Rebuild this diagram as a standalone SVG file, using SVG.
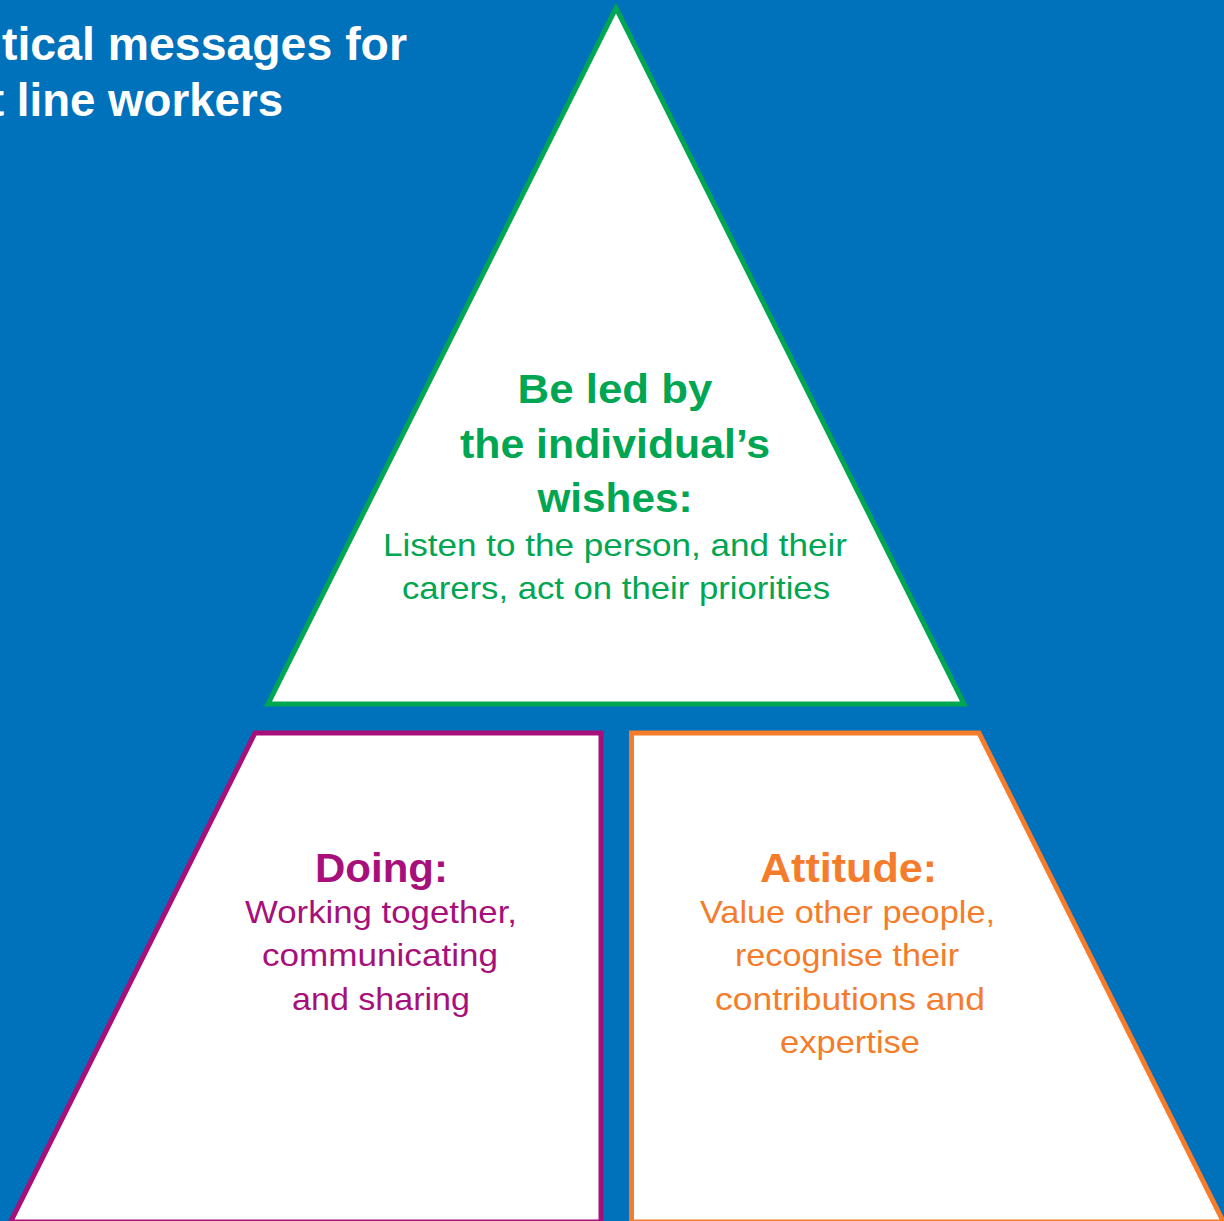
<svg xmlns="http://www.w3.org/2000/svg" width="1224" height="1221" viewBox="0 0 1224 1221">
<style>
.shape{fill:#fff;stroke-width:5;stroke-linejoin:miter}
.t{font-family:"Liberation Sans",Arial,sans-serif;text-anchor:middle}
.b{font-weight:bold;font-size:41px}
.r{font-size:32px}
.title{font-family:"Liberation Sans",Arial,sans-serif;font-weight:bold;font-size:47px;fill:#fff}
</style>
<rect x="0" y="0" width="1224" height="1221" fill="#0071BB"/>
<g id="title">
<text class="title" x="2" y="60" textLength="405" lengthAdjust="spacingAndGlyphs">tical messages for</text>
<text class="title" x="-11" y="116" textLength="294" lengthAdjust="spacingAndGlyphs">t line workers</text>
</g>
<g id="connectors"></g>
<g id="node-wishes">
<polygon class="shape" stroke="#00A651" points="616,8 964,704 268,704"/>
<text class="t b" fill="#00A651" x="615" y="403" textLength="195" lengthAdjust="spacingAndGlyphs">Be led by</text>
<text class="t b" fill="#00A651" x="615" y="458" textLength="310" lengthAdjust="spacingAndGlyphs">the individual’s</text>
<text class="t b" fill="#00A651" x="615" y="512" textLength="155" lengthAdjust="spacingAndGlyphs">wishes:</text>
<text class="t r" fill="#00A651" x="615" y="556" textLength="464" lengthAdjust="spacingAndGlyphs">Listen to the person, and their</text>
<text class="t r" fill="#00A651" x="616" y="599" textLength="428" lengthAdjust="spacingAndGlyphs">carers, act on their priorities</text>
</g>
<g id="node-doing">
<polygon class="shape" stroke="#A7107A" points="255,733 601,733 601,1222 10.5,1222"/>
<text class="t b" fill="#A7107A" x="381.5" y="882" textLength="133" lengthAdjust="spacingAndGlyphs">Doing:</text>
<text class="t r" fill="#A7107A" x="381" y="923" textLength="272" lengthAdjust="spacingAndGlyphs">Working together,</text>
<text class="t r" fill="#A7107A" x="380" y="966" textLength="236" lengthAdjust="spacingAndGlyphs">communicating</text>
<text class="t r" fill="#A7107A" x="381" y="1010" textLength="178" lengthAdjust="spacingAndGlyphs">and sharing</text>
</g>
<g id="node-attitude">
<polygon class="shape" stroke="#F47C2B" points="631.5,733 979,733 1223.5,1222 631.5,1222"/>
<text class="t b" fill="#F47C2B" x="848.5" y="882" textLength="177" lengthAdjust="spacingAndGlyphs">Attitude:</text>
<text class="t r" fill="#F47C2B" x="847.5" y="923" textLength="295" lengthAdjust="spacingAndGlyphs">Value other people,</text>
<text class="t r" fill="#F47C2B" x="847" y="966" textLength="224" lengthAdjust="spacingAndGlyphs">recognise their</text>
<text class="t r" fill="#F47C2B" x="850" y="1010" textLength="270" lengthAdjust="spacingAndGlyphs">contributions and</text>
<text class="t r" fill="#F47C2B" x="850" y="1053" textLength="140" lengthAdjust="spacingAndGlyphs">expertise</text>
</g>
</svg>
